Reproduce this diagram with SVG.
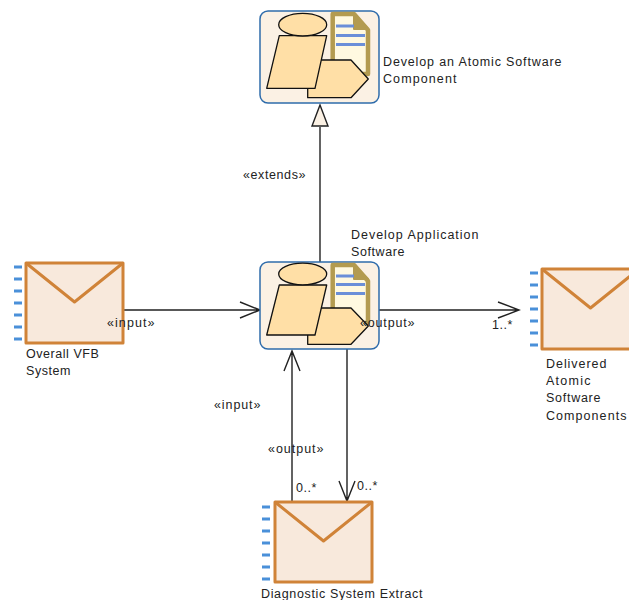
<svg xmlns="http://www.w3.org/2000/svg" width="629" height="600" viewBox="0 0 629 600">
<style>
text{font-family:"Liberation Sans",Arial,sans-serif;font-size:12.5px;fill:#222;letter-spacing:.55px}
.box{fill:#fbf1e4;stroke:#2f6cab;stroke-width:1.5}
.sh{fill:#ffdfa6;stroke:#111;stroke-width:1.3;stroke-linejoin:round}
.doc{fill:#fff9e0;stroke:#b39b50;stroke-width:4.500;stroke-linejoin:round}
.fold{fill:#b39b50;stroke:#b39b50;stroke-width:2;stroke-linejoin:round}
.ln{stroke:#6b8fd8;stroke-width:3}
.env{fill:#f8e9dc;stroke:#d08338;stroke-width:3;stroke-linejoin:round}
.flap{fill:none;stroke:#d08338;stroke-width:3;stroke-linejoin:round}
.tick{stroke:#4a90d9;stroke-width:3}
.c{fill:none;stroke:#222;stroke-width:1.4}
</style>
<defs>
<g id="ticks">
<path class="tick" d="M0 0h8M0 12h8M0 24h8M0 36h8M0 48h8M0 60h8M0 72h8"/>
</g>
<g id="envelope">
<rect class="env" x="0" y="0" width="97" height="80"/>
<path class="flap" d="M0 0L48.500 39L97 0"/>
</g>
</defs>
<g id="connectors">
<path class="c" d="M320 262V127"/>
<path d="M320 105L328 126H312Z" fill="#fbf1e4" stroke="#222" stroke-width="1.4"/>
<path class="c" d="M123 310H260M240 302L260 310L240 318"/>
<path class="c" d="M379 310H519M498 302L519 310L498 318"/>
<path class="c" d="M292 502V351M284 371L292 351L300 371"/>
<path class="c" d="M347 349V501M339 481L347 501L355 481"/>
</g>
<g id="node-develop-atomic">
<rect class="box" x="260" y="11" width="119" height="92" rx="8"/>
<path class="doc" d="M332.700 14H354L368 30V74H332.700Z"/>
<path class="fold" d="M354 14V29H368Z"/>
<path class="ln" d="M336 26H354M336 35.500H365M336 44.500H365"/>
<path class="sh" d="M307.700 60H351L368.300 79L351 97.700H307.700Z"/>
<path class="sh" d="M279.300 35.700H326.700L315 88.300H266.700Z"/>
<ellipse class="sh" cx="302.700" cy="24.700" rx="24" ry="11.300"/>
<text x="383" y="66" textLength="179">Develop an Atomic Software</text>
<text x="383" y="83" textLength="74">Component</text>
</g>
<g id="node-develop-application">
<rect class="box" x="260" y="262" width="119" height="87" rx="8"/>
<path class="doc" d="M332.700 265H354L368 281V323H332.700Z"/>
<path class="fold" d="M354 265V279H368Z"/>
<path class="ln" d="M336 276H354M336 284.500H365M336 293.500H365"/>
<path class="sh" d="M307.700 308H351L368.300 326L351 344.300H307.700Z"/>
<path class="sh" d="M279.300 285H326.700L315 335H266.700Z"/>
<ellipse class="sh" cx="302.700" cy="274" rx="24" ry="10.800"/>
<text x="351" y="239" textLength="128">Develop Application</text>
<text x="351" y="256" textLength="54">Software</text>
</g>
<g id="node-overall-vfb">
<use href="#ticks" x="14" y="267"/>
<use href="#envelope" x="26" y="263"/>
<text x="26" y="358">Overall VFB</text>
<text x="26" y="375">System</text>
</g>
<g id="node-delivered">
<use href="#ticks" x="530" y="273"/>
<use href="#envelope" x="542" y="269"/>
<text x="546" y="368" textLength="61">Delivered</text>
<text x="546" y="385" textLength="45">Atomic</text>
<text x="546" y="402" textLength="55">Software</text>
<text x="546" y="420" textLength="81">Components</text>
</g>
<g id="node-diagnostic">
<use href="#ticks" x="262" y="507"/>
<use href="#envelope" x="275" y="502"/>
<text x="261" y="598" textLength="162">Diagnostic System Extract</text>
</g>
<g id="labels">
<text x="243" y="179" textLength="63">«extends»</text>
<text x="107" y="327" textLength="48">«input»</text>
<text x="360" y="327" textLength="55">«output»</text>
<text x="492" y="329">1..*</text>
<text x="214" y="409" textLength="47">«input»</text>
<text x="268" y="453" textLength="56">«output»</text>
<text x="296" y="492">0..*</text>
<text x="357" y="490">0..*</text>
</g>
</svg>
